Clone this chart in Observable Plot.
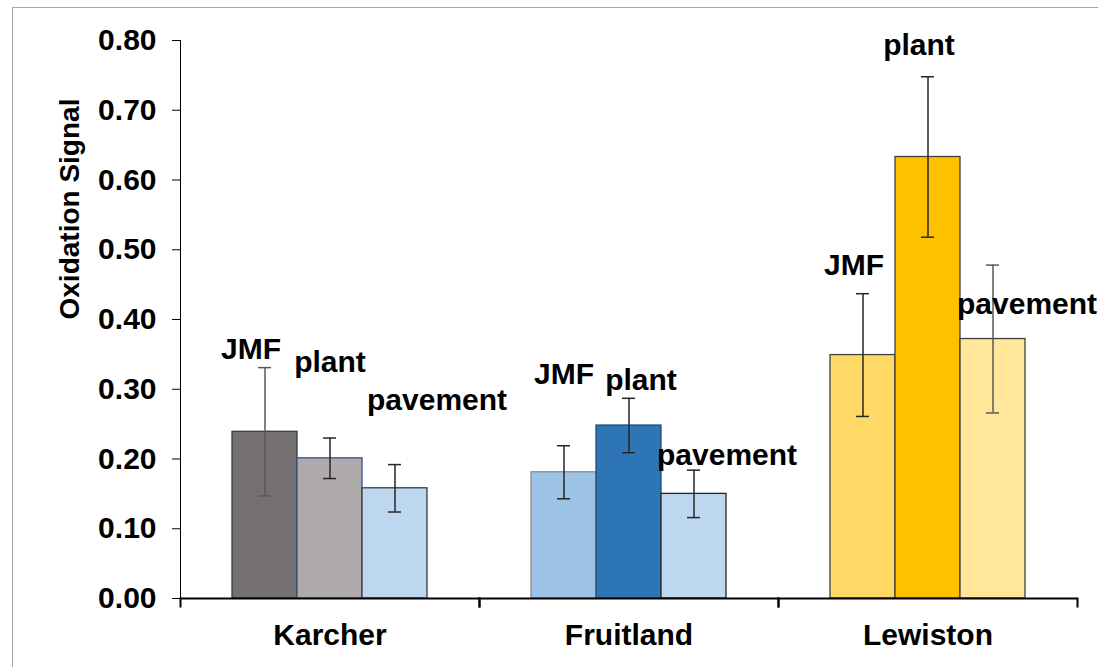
<!DOCTYPE html>
<html>
<head>
<meta charset="utf-8">
<script src="https://cdn.jsdelivr.net/npm/d3@7"></script>
<script src="https://cdn.jsdelivr.net/npm/@observablehq/plot@0.6"></script>
<style>
  html, body { margin: 0; padding: 0; background: #fff; }
  #wrap { position: relative; width: 1098px; height: 667px; overflow: hidden; }
  #border { position: absolute; left: 12px; top: 7px; width: 1200px; height: 800px; border: 1.5px solid #a6a6a6; box-sizing: border-box; pointer-events: none; }
  #chart { position: absolute; left: 0; top: 0; }
</style>
</head>
<body>
<div id="wrap"><div id="border"></div><div id="chart"></div></div>
<script>
// ---- data ----
const sites = ["Karcher", "Fruitland", "Lewiston"];
const series = ["JMF", "plant", "pavement"];
const karcherValues = [0.239, 0.201, 0.158];
const karcherErrors = [0.092, 0.029, 0.034];
const fruitlandValues = [0.181, 0.248, 0.150];
const fruitlandErrors = [0.038, 0.039, 0.034];
const lewistonValues = [0.349, 0.633, 0.372];
const lewistonErrors = [0.088, 0.115, 0.106];
const yTicks = [0, 0.1, 0.2, 0.3, 0.4, 0.5, 0.6, 0.7, 0.8];
// label anchor heights (data units) for the series labels
const karcherLabelY = [0.357, 0.338, 0.284];
const fruitlandLabelY = [0.321, 0.3125, 0.205];
const lewistonLabelY = [0.477, 0.793, 0.421];

// ---- styles ----
const fills = {
  Karcher: ["#767171", "#AEAAAA", "#BDD7EE"],
  Fruitland: ["#9DC3E6", "#2E75B6", "#BDD7EE"],
  Lewiston: ["#FFD966", "#FFC000", "#FFE699"]
};
const strokes = {
  Karcher: ["#3a3a3a", "#2F5597", "#3a3a3a"],
  Fruitland: ["#8c8c8c", "#1f4e79", "#262626"],
  Lewiston: ["#404040", "#404040", "#404040"]
};
const errColors = {
  Karcher: ["#595959", "#262626", "#262626"],
  Fruitland: ["#262626", "#262626", "#262626"],
  Lewiston: ["#262626", "#262626", "#595959"]
};
const labelDx = {
  Karcher: [-14, 0, -28],
  Fruitland: [0, 12, -37],
  Lewiston: [-9, -9, -36]
};

const valuesBySite = {Karcher: karcherValues, Fruitland: fruitlandValues, Lewiston: lewistonValues};
const errorsBySite = {Karcher: karcherErrors, Fruitland: fruitlandErrors, Lewiston: lewistonErrors};
const labelYBySite = {Karcher: karcherLabelY, Fruitland: fruitlandLabelY, Lewiston: lewistonLabelY};

const rows = [];
for (const site of sites) {
  series.forEach((s, j) => {
    rows.push({site, series: s, j, value: valuesBySite[site][j], err: errorsBySite[site][j], ly: labelYBySite[site][j]});
  });
}

const labelMarks = rows.map(r => Plot.text([r], {
  fx: "site", x: "series", y: "ly", text: "series",
  dx: labelDx[r.site][r.j],
  fill: "#000", fontSize: 30, fontWeight: "bold",
  textAnchor: r.series === "pavement" ? "start" : "middle"
}));

const chart = Plot.plot({
  width: 1098,
  height: 667,
  marginLeft: 179,
  marginRight: 21,
  marginTop: 40,
  marginBottom: 69,
  style: {fontFamily: "'Liberation Sans', Arial, sans-serif", fontWeight: "bold", fontSize: "30px", color: "#000", background: "transparent"},
  fx: {domain: sites, padding: 0, tickSize: 0, tickPadding: 25, label: null},
  x: {domain: series, paddingInner: 0, paddingOuter: 0.77, axis: null},
  y: {domain: [0, 0.8], ticks: yTicks, tickFormat: d3.format(".2f"), tickSize: 8, tickPadding: 16, line: true, label: null},
  marks: [
    Plot.barY(rows, {
      fx: "site", x: "series", y: "value",
      fill: d => fills[d.site][d.j],
      stroke: d => strokes[d.site][d.j],
      strokeWidth: 1.3
    }),
    Plot.ruleX(rows, {
      fx: "site", x: "series",
      y1: d => d.value - d.err, y2: d => d.value + d.err,
      stroke: d => errColors[d.site][d.j], strokeWidth: 1.5
    }),
    Plot.tickY(rows, {
      fx: "site", x: "series", y: d => d.value - d.err,
      stroke: d => errColors[d.site][d.j], strokeWidth: 1.5, insetLeft: 26, insetRight: 26
    }),
    Plot.tickY(rows, {
      fx: "site", x: "series", y: d => d.value + d.err,
      stroke: d => errColors[d.site][d.j], strokeWidth: 1.5, insetLeft: 26, insetRight: 26
    }),
    Plot.ruleY([0], {stroke: "#000", strokeWidth: 2}),
    Plot.frame({anchor: "left", insetTop: 558, insetBottom: -8, stroke: "#000", strokeWidth: 2}),
    Plot.frame({anchor: "right", insetTop: 558, insetBottom: -8, stroke: "#000", strokeWidth: 2}),
    ...labelMarks,
    Plot.text(["Oxidation Signal"], {
      frameAnchor: "left", text: d => d, rotate: -90, dx: -110,
      fontSize: 28, fontWeight: "bold", fill: "#000", facet: "super"
    })
  ]
});

document.getElementById("chart").appendChild(chart);
</script>
</body>
</html>
